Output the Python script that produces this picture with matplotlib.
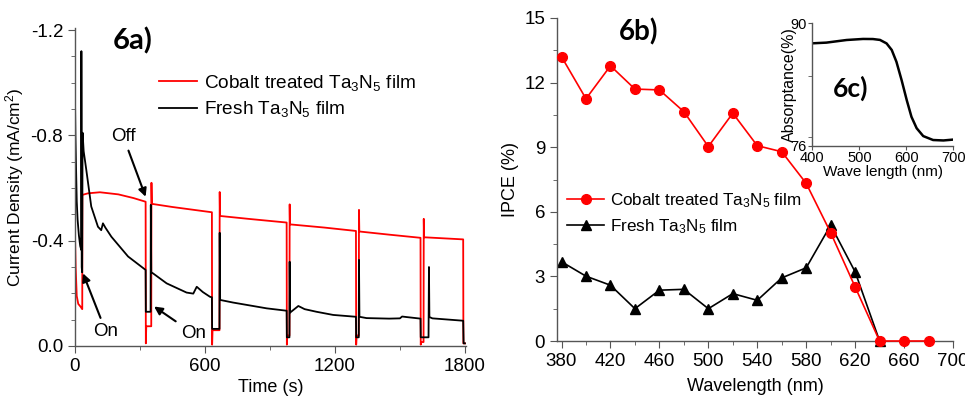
import numpy as np
import matplotlib
matplotlib.use("Agg")
import matplotlib.pyplot as plt
from matplotlib.ticker import MultipleLocator

plt.rcParams["font.family"] = ["Liberation Sans", "DejaVu Sans"]
plt.rcParams["mathtext.fontset"] = "custom"
plt.rcParams["mathtext.rm"] = "Liberation Sans"
plt.rcParams["mathtext.it"] = "Liberation Sans:italic"

# ── 6a) chopped-light photocurrent (mA/cm^2, negative = cathodic) ─────────────
t_cobalt = [0, 0.5, 3, 8, 15, 26, 33.5, 34, 60, 115, 200, 270, 326,
            327, 329, 352, 353, 354.5, 450, 550, 632,
            633, 635, 667, 668, 669.5, 800, 977,
            978, 980, 990, 991, 992.5, 1150, 1297,
            1298, 1300, 1310, 1311, 1312.5, 1450, 1595,
            1596, 1598, 1609, 1610, 1611.5, 1792, 1793, 1800]
j_cobalt = [-0.52, -0.40, -0.30, -0.19, -0.16, -0.149, -0.14, -0.574, -0.58, -0.584, -0.576, -0.562, -0.548,
            -0.01, -0.075, -0.075, -0.62, -0.54, -0.528, -0.517, -0.508,
            -0.005, -0.06, -0.06, -0.585, -0.494, -0.483, -0.469,
            -0.005, -0.04, -0.04, -0.538, -0.462, -0.450, -0.437,
            -0.005, -0.04, -0.04, -0.517, -0.435, -0.423, -0.411,
            -0.005, -0.015, -0.015, -0.483, -0.413, -0.405, -0.01, -0.01]

t_fresh = [0, 2, 5, 8, 12, 18, 24, 29, 29.5, 31, 33, 35, 40, 52, 75, 106, 121, 129, 140, 168, 245, 326,
           327, 349, 350, 352, 360, 423, 515, 546, 562, 590, 623, 632,
           633, 667, 668, 670, 730, 885, 977,
           978, 990, 991, 993, 1031, 1060, 1115, 1192, 1297,
           1298, 1310, 1311, 1313, 1346, 1450, 1500, 1510, 1530, 1595,
           1596, 1632, 1634, 1636, 1650, 1792, 1794, 1800]
j_fresh = [-0.94, -0.80, -0.67, -0.55, -0.48, -0.42, -0.38, -0.365, -1.12, -0.30, -0.28, -0.81, -0.74,
           -0.67, -0.53, -0.453, -0.44, -0.466, -0.45, -0.415, -0.34, -0.289,
           -0.13, -0.13, -0.536, -0.28, -0.276, -0.238, -0.203, -0.199, -0.225, -0.205, -0.187, -0.185,
           -0.065, -0.065, -0.43, -0.175, -0.165, -0.143, -0.134,
           -0.033, -0.033, -0.32, -0.127, -0.152, -0.140, -0.130, -0.118, -0.111,
           -0.033, -0.033, -0.327, -0.111, -0.106, -0.104, -0.105, -0.112, -0.110, -0.104,
           -0.033, -0.033, -0.30, -0.11, -0.105, -0.096, -0.01, -0.01]

# ── 6b) IPCE ──────────────────────────────────────────────────────────────────
wl_cobalt = [380, 400, 420, 440, 460, 480, 500, 520, 540, 560, 580, 600, 620, 640, 660, 680]
ipce_cobalt = [13.2, 11.25, 12.78, 11.7, 11.66, 10.65, 9.03, 10.58, 9.07, 8.79, 7.32, 5.03, 2.51, 0, 0, 0]
wl_fresh = [380, 400, 420, 440, 460, 480, 500, 520, 540, 560, 580, 600, 620, 640]
ipce_fresh = [3.68, 3.01, 2.59, 1.50, 2.36, 2.40, 1.50, 2.20, 1.89, 2.93, 3.40, 5.38, 3.21, 0]

# ── 6c) absorptance inset ─────────────────────────────────────────────────────
wl_abs = [400, 430, 473, 508, 529, 544, 558, 569, 579, 590, 601, 611, 622, 636, 657, 679, 700]
absorp = [87.71, 87.79, 88.09, 88.21, 88.2, 88.1, 87.7, 86.95, 85.6, 83.5, 81.2, 79.3, 78.0, 77.1, 76.65, 76.6, 76.7]

lab_cobalt = r"Cobalt treated Ta$_3$N$_5$ film"
lab_fresh = r"Fresh Ta$_3$N$_5$ film"
RED = "#ff0000"


def style_axes(ax, labelsize=13.5):
    ax.spines["top"].set_visible(False)
    ax.spines["right"].set_visible(False)
    for s in ("left", "bottom"):
        ax.spines[s].set_color("#555555")
        ax.spines[s].set_linewidth(1.0)
    ax.tick_params(which="major", direction="out", length=5, color="#555555", labelsize=labelsize)
    ax.tick_params(which="minor", direction="out", length=3, color="#555555")


fig = plt.figure(figsize=(9.65, 3.96), dpi=100)

# ── panel a ───────────────────────────────────────────────────────────────────
ax1 = fig.add_axes([75 / 965, 50 / 396, 391 / 965, 318 / 396])
ax1.plot(t_cobalt, j_cobalt, color=RED, lw=1.3, label=lab_cobalt)
ax1.plot(t_fresh, j_fresh, color="black", lw=1.3, label=lab_fresh)
ax1.set_xlim(0, 1805)
ax1.set_ylim(0, -1.208)
ax1.xaxis.set_major_locator(MultipleLocator(600))
ax1.xaxis.set_minor_locator(MultipleLocator(300))
ax1.yaxis.set_major_locator(MultipleLocator(0.4))
ax1.yaxis.set_minor_locator(MultipleLocator(0.1))
ax1.yaxis.set_major_formatter(lambda v, p: f"{v:.1f}" if abs(v) > 1e-9 else "0.0")
style_axes(ax1)
ax1.set_xlabel("Time (s)", fontsize=13, labelpad=3)
ax1.set_ylabel(r"Current Density (mA/cm$^2$)", fontsize=12.5, labelpad=3)
ax1.legend(loc="upper left", bbox_to_anchor=(0.215, 0.86), frameon=False, fontsize=13.7,
           handlelength=2.0, handletextpad=0.35, labelspacing=0.35, borderaxespad=0, borderpad=0)
ax1.text(0.097, 0.959, "6a)", transform=ax1.transAxes, fontsize=21, fontweight="bold",
         family="Lato", va="center", ha="left")

arrow = dict(arrowstyle="-|>", color="black", lw=1.5, mutation_scale=12, shrinkA=2, shrinkB=0)
ax1.annotate("Off", xy=(326, -0.567), xytext=(223, -0.795), fontsize=13.5, ha="center", va="center",
             arrowprops=arrow)
ax1.annotate("On", xy=(37, -0.276), xytext=(143, -0.054), fontsize=13.5, ha="center", va="center",
             arrowprops=arrow)
ax1.annotate("On", xy=(365, -0.15), xytext=(546, -0.048), fontsize=13.5, ha="center", va="center",
             arrowprops=arrow)

# ── panel b ───────────────────────────────────────────────────────────────────
ax2 = fig.add_axes([557 / 965, 55 / 396, 396 / 965, 323 / 396])
ax2.plot(wl_cobalt, ipce_cobalt, color=RED, lw=1.2, marker="o", ms=7, label=lab_cobalt,
         clip_on=False, zorder=3)
ax2.plot(wl_fresh, ipce_fresh, color="black", lw=1.2, marker="^", ms=7, label=lab_fresh,
         clip_on=False, zorder=2)
ax2.set_xlim(376.3, 700)
ax2.set_ylim(0, 15)
ax2.set_xticks(range(380, 701, 40))
ax2.xaxis.set_minor_locator(MultipleLocator(20))
ax2.yaxis.set_major_locator(MultipleLocator(3))
ax2.yaxis.set_minor_locator(MultipleLocator(1.5))
style_axes(ax2)
ax2.set_xlabel("Wavelength (nm)", fontsize=13, labelpad=6)
ax2.set_ylabel("IPCE (%)", fontsize=13, labelpad=4)
ax2.legend(loc="upper left", bbox_to_anchor=(0.025, 0.465), frameon=False, fontsize=12.3,
           handlelength=2.2, handletextpad=0.3, labelspacing=0.45, borderaxespad=0, borderpad=0)
ax2.text(0.155, 0.957, "6b)", transform=ax2.transAxes, fontsize=20, fontweight="bold",
         family="Lato", va="center", ha="left")

# ── inset c ───────────────────────────────────────────────────────────────────
ax3 = fig.add_axes([812.3 / 965, 250.3 / 396, 141 / 965, 122.4 / 396])
ax3.plot(wl_abs, absorp, color="black", lw=1.8)
ax3.set_xlim(400, 700)
ax3.set_ylim(76, 90)
ax3.set_xticks([400, 500, 600, 700])
ax3.set_yticks([76, 90])
ax3.yaxis.set_minor_locator(MultipleLocator(7))
style_axes(ax3, labelsize=10.5)
ax3.tick_params(which="major", length=3, pad=1)
ax3.set_xlabel("Wave length (nm)", fontsize=11, labelpad=0)
ax3.set_ylabel("Absorptance(%)", fontsize=11.5, labelpad=-5)
ax3.text(0.147, 0.47, "6c)", transform=ax3.transAxes, fontsize=19, fontweight="bold",
         family="Lato", va="center", ha="left")

fig.savefig("out.png", dpi=100)
